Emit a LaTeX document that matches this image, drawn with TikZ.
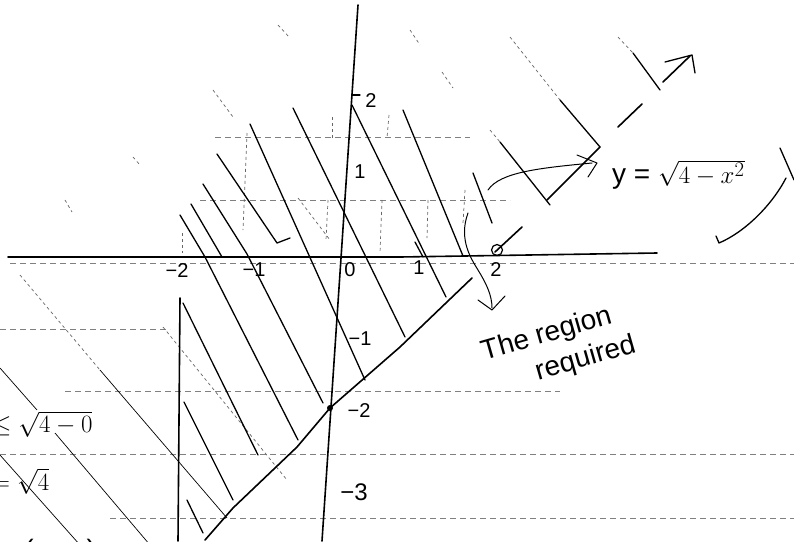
\documentclass[tikz,border=0pt]{standalone}
\usepackage{fontspec}
\setmainfont{Liberation Sans}
\begin{document}
\begin{tikzpicture}[x=1pt,y=-1pt,
  ax/.style={line width=1.6pt,line cap=round,line join=round},
  hatch/.style={line width=1.3pt,line cap=round,line join=round},
  thin/.style={line width=0.7pt},
  faint/.style={line width=0.7pt,black!60,dash pattern=on 3pt off 3pt},
  rule/.style={line width=0.6pt,black!50,dash pattern=on 6pt off 4pt},
  lbl/.style={inner sep=0pt,font=\fontsize{20}{20}\selectfont},
  hand/.style={inner sep=0pt,font=\fontsize{28}{28}\selectfont}]
\fill[white] (0,0) rectangle (794,541);
\useasboundingbox (0,0) rectangle (794,541);
\clip (0,0) rectangle (794,541);

% ruled paper lines
\draw[rule] (215,137) -- (470,137);
\draw[rule] (200,200) -- (510,200);
\draw[rule] (10,263) -- (794,263);
\draw[rule] (0,329) -- (170,329);
\draw[rule] (65,391) -- (560,391);
\draw[rule] (0,454) -- (794,454);
\draw[rule] (110,518) -- (794,518);

% faint dotted verticals
\draw[faint] (247,133) -- (243,230);
\draw[faint] (182,233) -- (182,253);
\draw[faint] (328,200) -- (326,240);
\draw[faint] (332,117) -- (332,138);
\draw[faint] (389,115) -- (387,138);
\draw[faint] (382,200) -- (380,253);
\draw[faint] (428,200) -- (427,238);
\draw[faint] (465,190) -- (463,223);

% faint diagonals
\draw[faint] (278,25) -- (290,38);
\draw[faint] (213,90) -- (233,117);
\draw[faint] (133,157) -- (140,165);
\draw[faint] (65,200) -- (72,212);
\draw[faint] (298,198) -- (330,240);
\draw[faint] (410,30) -- (420,45);
\draw[faint] (442,72) -- (453,88);
\draw[faint] (510,37) -- (560,100);
\draw[faint] (618,37) -- (633,53);
\draw[faint] (490,130) -- (500,142);
\draw[faint] (20,275) -- (100,370);
\draw[faint] (163,327) -- (287,480);

% thin solid diagonals on the left
\draw[thin] (0,368) -- (37,410);
\draw[thin] (55,433) -- (150,545);
\draw[thin] (0,455) -- (80,545);
\draw[thin] (100,370) -- (227,518);

% axes
\coordinate (xl) at (8,257);
\coordinate (xm) at (400,257);
\coordinate (xr) at (657,253);
\coordinate (yt) at (358,5);
\coordinate (yb) at (322,541);
\draw[ax] (xl) -- (xm) -- (xr);
\draw[ax] (yt) -- (yb);
\draw[hatch] (352,95) -- (360,95);

% x = -2
\coordinate (vt) at (180,298);
\coordinate (vb) at (178,541);
\draw[ax] (vt) -- (vb);

% y = x - 2
\coordinate (D) at (330,408);
\draw[ax] (205,540) -- (233,508) -- (297,447) -- (D) -- (400,347) -- (472,278);
\draw[ax] (495,252) -- (522,227);
\draw[ax] (547,200) -- (600,147);
\draw[ax] (618,127) -- (642,104);
\draw[ax] (663,82) -- (690,56);
\draw[hatch] (665,62) -- (692,55) -- (695,73);

% hatching
\draw[hatch] (250,124) -- (365,380);
\draw[hatch] (293,108) -- (405,337);
\draw[hatch] (352,105) -- (446,297);
\draw[hatch] (403,110) -- (463,256);
\draw[hatch] (473,173) -- (492,223);
\draw[hatch] (217,154) -- (277,243) -- (290,238);
\draw[hatch] (203,184) -- (247,254) -- (323,403);
\draw[hatch] (191,204) -- (222,257);
\draw[hatch] (180,215) -- (205,257) -- (298,440);
\draw[hatch] (183,303) -- (258,455);
\draw[hatch] (184,402) -- (233,500);
\draw[hatch] (187,500) -- (203,533);
\draw[hatch] (560,100) -- (600,147);
\draw[hatch] (500,142) -- (550,205);
\draw[hatch] (633,53) -- (660,90);
\draw[hatch] (415,242) -- (423,257);

% right bracket strokes
\draw[hatch] (780,148) -- (794,180);
\draw[hatch] (716,236) -- (719,243) .. controls (745,232) and (772,205) .. (786,178);

% points
\fill (D) circle[radius=3pt];
\draw[line width=1.2pt] (497,250) circle[radius=5.5pt];

% arrows to labels
\draw[hatch,line width=1pt] (488,190) .. controls (500,172) and (540,168) .. (592,163);
\draw[hatch,line width=1pt] (577,155) -- (597,163) -- (588,177);
\draw[hatch,line width=1pt] (468,213) .. controls (458,240) and (472,260) .. (478,270) .. controls (486,283) and (492,295) .. (492,308);
\draw[hatch,line width=1pt] (478,300) -- (492,310) -- (505,296);

% axis labels
\node[lbl] (xm2) at (177,271) {−2};
\node[lbl] (xm1) at (254,270) {−1};
\node[lbl] (x0) at (350,270) {0};
\node[lbl] (x1) at (419,268) {1};
\node[lbl] (x2) at (496,270) {2};
\node[lbl] (y2) at (371,101) {2};
\node[lbl] (y1) at (360,172) {1};
\node[lbl] (ym1) at (360,339) {−1};
\node[lbl] (ym2) at (359,411) {−2};
\node[lbl,font=\fontsize{24}{24}\selectfont] (ym3) at (354,492) {−3};

% handwritten texts
\node[hand,anchor=west] (fn) at (612,175) {y = $\sqrt{4-x^2}$};
\node[hand,rotate=16,align=left,font=\fontsize{28}{34}\selectfont] (reg) at (559,349) {The region\\\hspace*{46pt}required};
\node[hand,anchor=west] (in1) at (-8,424) {$\leq\sqrt{4-0}$};
\node[hand,anchor=west,font=\fontsize{32}{32}\selectfont] (in2) at (-8,481) {$=\sqrt{4}$};
\node[hand,anchor=west] (in3) at (0,552) {= (max)};
\end{tikzpicture}
\end{document}
